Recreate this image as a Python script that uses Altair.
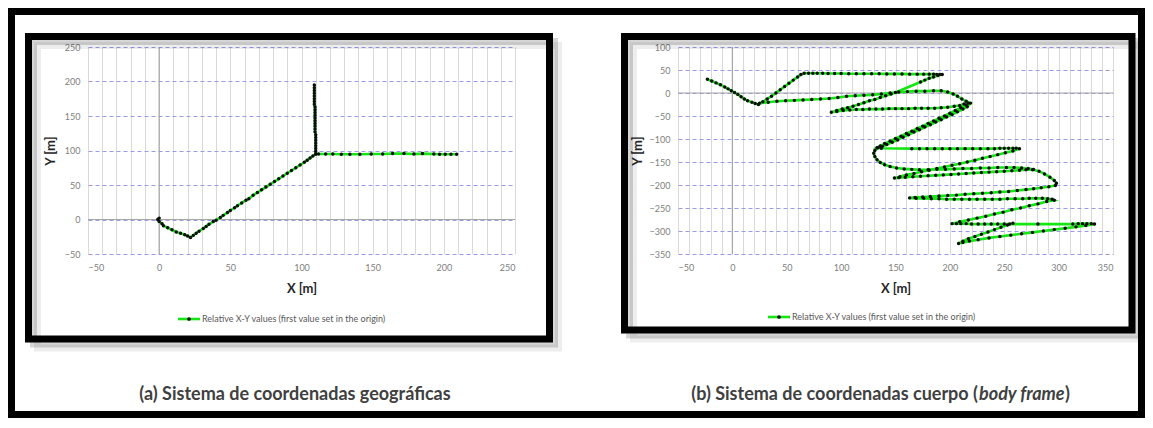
import altair as alt
import pandas as pd

# ---------------- texts ----------------
caption_a = "(a) Sistema de coordenadas geográficas"
caption_b_1 = "(b) Sistema de coordenadas cuerpo ("
caption_b_2 = "body frame"
caption_b_3 = ")"
legend_label = "Relative X-Y values (first value set in the origin)"
x_title = "X [m]"
y_title = "Y [m]"

# ---------------- panel (a): geographic frame ----------------
a_hook = [(0, 2), (-1, 0), (0, -3), (2, -6), (3, -9), (6, -12), (9, -15), (12, -18),
          (15, -20), (18, -22), (20, -24), (22, -26)]
a_diagonal = [(24, -23), (26, -20), (28, -17), (31, -13), (33, -10), (35, -7), (38, -3),
              (40, -1), (43, 3), (45, 6), (48, 10), (50, 13), (53, 17), (55, 20), (58, 24),
              (61, 28), (63, 30), (66, 35), (69, 39), (72, 43), (75, 47), (78, 51), (81, 55),
              (84, 59), (87, 63), (90, 67), (93, 71), (96, 75), (99, 79), (102, 83), (104, 86),
              (106, 89), (108, 92), (110, 95)]
a_vertical = [(110, 99), (110, 103), (110, 107), (110, 111), (110, 115), (110, 119), (110, 123),
              (109.5, 127), (109.5, 131), (109.5, 135), (109.5, 139), (109.5, 143), (109.5, 147),
              (109.5, 151), (109.5, 155), (109.5, 159), (109.5, 163), (109, 167), (109, 171),
              (109, 175), (109, 179), (109, 183), (109, 187), (109, 191), (109, 195)]
a_horizontal = [(110, 95), (112, 95), (117, 95), (122, 95), (128, 94.5), (134, 94.5), (141, 94.5),
                (149, 95), (157, 95), (164, 95.5), (172, 95.5), (179, 95), (185, 95.5), (193, 95),
                (197, 94.5), (201, 94.5), (205, 94.5), (209, 94.5)]
a_tracks = [a_hook + a_diagonal + a_vertical, a_horizontal]

# ---------------- panel (b): body frame ----------------
b_s1 = [(-23, 30), (-19, 26), (-15, 22), (-11, 18), (-7, 13), (-4, 9), (-1, 5), (2, 1), (5, -3),
        (8, -8), (11, -13), (14, -17), (18, -20), (21, -23), (24, -25)]
b_s2 = [(28, -19), (32, -13), (36, -7), (40, 0), (44, 7), (48, 14), (52, 21), (56, 28), (60, 35),
        (63, 40), (66, 43)]
b_s3 = [(70, 43), (74, 43), (78, 43), (83, 43), (88, 42.5), (94, 42.5), (100, 42.5), (107, 42),
        (114, 42), (121, 42), (128, 42), (135, 42), (142, 41.5), (149, 41.5), (156, 41.5),
        (163, 41), (170, 41), (176, 41), (181, 41), (185, 41), (188, 40.5), (191, 40.5), (193, 40)]
b_s4 = [(189, 38), (185, 35), (181, 32), (177, 28), (173, 24)]
b_s5 = [(150, 1), (146, -2), (141, -6), (136, -10), (131, -14), (126, -17), (121, -21), (116, -25),
        (111, -29), (106, -32), (101, -35), (96, -38), (91, -42)]
b_s6 = [(96, -40), (102, -38), (108, -37), (114, -36), (120, -36), (126, -35), (132, -35),
        (138, -35), (144, -34), (150, -34), (156, -34), (162, -34), (168, -33), (174, -33),
        (180, -33), (186, -33), (192, -32), (198, -31), (204, -29), (209, -27), (213, -24), (217, -22)]
b_s8a = [(215, -26), (210, -32), (205, -38), (200, -44), (195, -50), (190, -55), (185, -61),
         (180, -66), (175, -72), (170, -77), (165, -83), (160, -88), (155, -94), (150, -99),
         (145, -105), (140, -110), (136, -115), (133, -119)]
b_s9 = [(137, -120), (165, -121), (172, -121), (179, -121), (186, -121), (193, -121), (200, -121),
        (207, -121), (214, -121), (221, -121), (228, -121), (235, -121), (241, -121), (246, -120),
        (250, -120), (254, -120), (258, -120), (261, -120), (264, -121)]
b_s12 = [(258, -126), (251, -130), (244, -134), (237, -138), (230, -142), (223, -146), (216, -150),
         (209, -154), (202, -157), (195, -161), (188, -164), (181, -168), (174, -171), (167, -175),
         (160, -178), (154, -182), (149, -185)]
b_s13 = [(153, -184), (159, -183), (166, -182), (173, -181), (180, -180), (187, -179), (194, -178),
         (201, -177), (208, -176), (215, -175), (222, -174), (229, -173), (236, -172), (243, -171),
         (250, -170), (257, -169), (264, -168), (270, -167), (276, -167)]
b_s14 = [(282, -170), (287, -176), (292, -183), (296, -190), (298, -196), (297, -201)]
b_s15 = [(291, -204), (284, -206), (277, -208), (270, -210), (262, -212), (254, -214), (246, -215),
         (238, -217), (230, -218), (222, -219), (214, -220), (206, -222), (198, -223), (190, -224),
         (182, -225), (175, -226), (168, -227), (163, -228)]
b_s16 = [(169, -229), (176, -229), (183, -230), (190, -230), (197, -231), (204, -231), (211, -231),
         (218, -231), (225, -231), (232, -231), (239, -231), (246, -231), (253, -230), (260, -230),
         (267, -230), (273, -229), (279, -229), (285, -229), (290, -230), (294, -231), (296, -233)]
b_s17 = [(289, -236), (281, -241), (273, -245), (265, -250), (257, -254), (249, -259), (241, -263),
         (233, -268), (225, -272), (217, -276), (209, -280), (202, -284)]
b_s18 = [(206, -284), (210, -284), (215, -284), (220, -285), (226, -285), (232, -285), (238, -285),
         (244, -285), (250, -285), (255, -285), (281, -285), (313, -285), (318, -284), (322, -284),
         (326, -284), (330, -284), (333, -285)]
b_s19 = [(325, -288), (316, -291), (306, -294), (296, -297), (286, -300), (276, -303), (266, -306),
         (256, -309), (246, -312), (236, -315), (226, -319), (218, -322), (212, -325), (208, -327)]
b_s20 = [(212, -322), (217, -317), (223, -312), (229, -307), (235, -302), (241, -297), (247, -292),
         (253, -287), (258, -283)]
b_s7 = [(25, -22), (33, -20), (41, -18), (49, -17), (57, -16), (65, -15), (73, -14), (81, -13),
        (89, -12), (97, -10), (105, -7), (113, -6), (121, -5), (129, -4), (137, -2), (145, 0),
        (153, 2), (161, 3), (169, 4), (177, 4), (185, 5), (192, 5), (198, 2), (203, -2), (207, -7),
        (211, -13), (215, -18), (219, -22)]
b_s8b = [(216, -30), (212, -35), (207, -41), (202, -47), (197, -52), (192, -58), (187, -63),
         (182, -69), (177, -74), (172, -80), (167, -85), (162, -91), (157, -96), (152, -102),
         (147, -107), (142, -112), (138, -116), (134, -119)]
b_s10 = [(131, -125), (130, -131), (131, -138), (133, -145), (136, -151), (140, -156), (145, -160),
         (151, -163), (158, -165), (165, -166), (172, -167), (180, -167), (188, -166), (196, -166),
         (204, -165), (212, -164), (220, -164), (228, -163), (236, -163), (244, -162), (252, -162),
         (259, -162), (266, -163), (272, -164), (277, -166)]
b_tracks = [
    b_s1 + b_s2 + b_s3 + b_s4 + b_s5 + b_s6 + b_s8a + b_s9 + b_s12 + b_s13 + b_s14 + b_s15
    + b_s16 + b_s17 + b_s18 + b_s19 + b_s20,
    b_s7 + b_s8b + b_s10,
]

# axis ticks
a_xticks = list(range(-50, 251, 10))
a_yticks = [-50, 0, 50, 100, 150, 200, 250]
b_xticks = list(range(-50, 351, 10))
b_yticks = [-350, -300, -250, -200, -150, -100, -50, 0, 50, 100]

# ---------------- style ----------------
GREEN = "#14e614"
FONT = "Lato"
PLOT_H = 207


def tracks_df(tracks):
    rows = []
    for s, tr in enumerate(tracks):
        for i, (x, y) in enumerate(tr):
            rows.append({"x": x, "y": y, "seg": s, "idx": i})
    return pd.DataFrame(rows)


def one():
    return alt.Chart(alt.Data(values=[{}]))


def panel(tracks, xdom, ydom, xticks, yticks, w, frame, ytx, legend_y):
    df = tracks_df(tracks)
    xaxis = alt.Axis(values=xticks, labelExpr="datum.value % 50 === 0 ? datum.label : ''",
                     labelOverlap=False, grid=True, gridColor="#d9d9d9", gridWidth=1,
                     domain=False, ticks=False, labelFont=FONT, labelFontSize=9,
                     labelColor="#808080", labelPadding=9, title=x_title, titleFont=FONT,
                     titleFontSize=13, titleFontWeight="bold", titleColor="#262626",
                     titleX=w / 2, titleY=34, titleBaseline="middle")
    yaxis = alt.Axis(values=yticks, labelOverlap=False, grid=True, gridColor="#9a9ae8",
                     gridDash=[4, 3], gridWidth=1, domain=False, ticks=False, labelFont=FONT,
                     labelFontSize=9, labelColor="#808080", labelPadding=8, title=y_title,
                     titleFont=FONT, titleFontSize=13, titleFontWeight="bold",
                     titleColor="#262626", titleX=ytx, titleY=PLOT_H / 2, titleAngle=270,
                     titleAlign="center", titleBaseline="middle")
    xs = alt.Scale(domain=xdom, nice=False, zero=False)
    ys = alt.Scale(domain=ydom, nice=False, zero=False)
    X = alt.X("x:Q", scale=xs, axis=xaxis)
    Y = alt.Y("y:Q", scale=ys, axis=yaxis)

    fx1, fx2, fy1, fy2 = frame
    shadow1 = one().mark_rect(fillOpacity=0, stroke="#000000", strokeWidth=7, strokeOpacity=0.16).encode(
        x=alt.value(fx1 + 5), x2=alt.value(fx2 + 5), y=alt.value(fy1 + 5), y2=alt.value(fy2 + 5))
    shadow2 = one().mark_rect(fillOpacity=0, stroke="#000000", strokeWidth=7, strokeOpacity=0.07).encode(
        x=alt.value(fx1 + 9), x2=alt.value(fx2 + 9), y=alt.value(fy1 + 9), y2=alt.value(fy2 + 9))
    box = one().mark_rect(fillOpacity=0, stroke="#000000", strokeWidth=7).encode(
        x=alt.value(fx1), x2=alt.value(fx2), y=alt.value(fy1), y2=alt.value(fy2))

    line = alt.Chart(df).mark_line(color=GREEN, strokeWidth=2.6).encode(
        x=X, y=Y, detail="seg:N", order="idx:Q")
    pts = alt.Chart(df).mark_circle(color="#0d0d0d", size=12, opacity=1).encode(x=X, y=Y)

    zero_x = one().mark_rule(color="#a6a6a6", strokeWidth=1.2).encode(
        x=alt.XDatum(0, type="quantitative", scale=xs, axis=xaxis))
    zero_y = one().mark_rule(color="#a6a6a6", strokeWidth=1.2).encode(
        y=alt.YDatum(0, type="quantitative", scale=ys, axis=yaxis))

    leg_line = one().mark_rule(color=GREEN, strokeWidth=2.6).encode(
        x=alt.value(90), x2=alt.value(112), y=alt.value(legend_y))
    leg_dot = one().mark_circle(color="#0d0d0d", size=14, opacity=1).encode(
        x=alt.value(101), y=alt.value(legend_y))
    leg_text = one().mark_text(align="left", baseline="middle", font=FONT, fontSize=9,
                               color="#595959").encode(
        x=alt.value(114), y=alt.value(legend_y), text=alt.value(legend_label))

    return [zero_x, zero_y, line, pts, shadow2, shadow1, box, leg_line, leg_dot, leg_text]


W_A, W_B = 427, 435

layers_a = panel(a_tracks, [-50, 250], [-50, 250], a_xticks, a_yticks, W_A,
                 (-59.5, 461.5, -10.5, 292), -38, 272)
outer = one().mark_rect(fillOpacity=0, stroke="#000000", strokeWidth=7).encode(
    x=alt.value(-76.5), x2=alt.value(1053.5), y=alt.value(-35.5), y2=alt.value(367.5))
cap_a = one().mark_text(align="center", baseline="middle", font=FONT, fontSize=18,
                        fontWeight="bold", color="#404040").encode(
    x=alt.value(207), y=alt.value(348), text=alt.value(caption_a))
chart_a = alt.layer(*layers_a, outer, cap_a).properties(width=W_A, height=PLOT_H)

CB = 300  # split point of caption (b), panel-b pixels
layers_b = panel(b_tracks, [-50, 350], [-350, 100], b_xticks, b_yticks, W_B,
                 (-53.5, 454, -10.5, 283), -41, 270)
cap_b1 = one().mark_text(align="right", baseline="middle", font=FONT, fontSize=18,
                         fontWeight="bold", color="#404040").encode(
    x=alt.value(CB), y=alt.value(348), text=alt.value(caption_b_1))
cap_b2 = one().mark_text(align="left", baseline="middle", font=FONT, fontSize=18,
                         fontWeight="bold", fontStyle="italic", color="#404040").encode(
    x=alt.value(CB + 1), y=alt.value(348), text=alt.value(caption_b_2))
cap_b3 = one().mark_text(align="left", baseline="middle", font=FONT, fontSize=18,
                         fontWeight="bold", color="#404040").encode(
    x=alt.value(CB + 87), y=alt.value(348), text=alt.value(caption_b_3))
chart_b = alt.layer(*layers_b, cap_b1, cap_b2, cap_b3).properties(width=W_B, height=PLOT_H)

chart = alt.HConcatChart(hconcat=[chart_a, chart_b], spacing=163, bounds="flush").properties(
    padding=0, background="white").configure_view(stroke=None)

chart.save("out.html", embed_options={"renderer": "svg", "actions": False})
